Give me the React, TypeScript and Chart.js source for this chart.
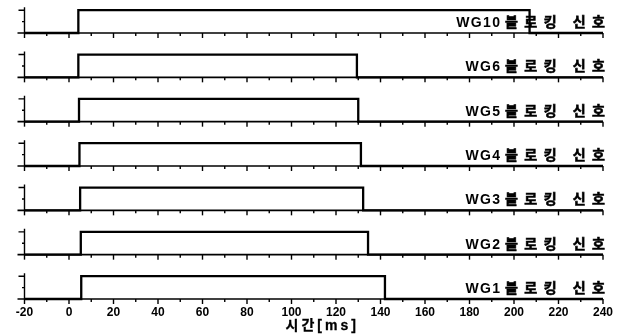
import { useEffect, useRef } from 'react';
import { Chart, registerables } from 'chart.js';

Chart.register(...registerables);

// ---- data ----
const signalNames = ['WG10', 'WG6', 'WG5', 'WG4', 'WG3', 'WG2', 'WG1'];
const labelSuffix = '블로킹 신호';
const riseTimes = [4.2, 4.2, 4.5, 4.7, 5.0, 5.3, 5.5];
const fallTimes = [207, 129.4, 130, 131.2, 132.2, 134.4, 142];
const xMin = -20;
const xMax = 240;
const xMajorStep = 20;
const xMinorStep = 10;
const axisTitle = '시간[ms]';

const LATIN = "'Liberation Sans', Arial, sans-serif";
const KR = "'Noto Sans CJK KR', 'Noto Sans CJK SC', sans-serif";
const MIXED = "'Liberation Sans', 'Noto Sans CJK KR', sans-serif";

function drawSpaced(
  ctx: CanvasRenderingContext2D,
  text: string,
  x: number,
  y: number,
  spacing: number,
  align: 'left' | 'right' | 'center',
  strokeW = 0,
) {
  const chars = Array.from(text);
  const widths = chars.map((c) => ctx.measureText(c).width);
  const total = widths.reduce((a, b) => a + b, 0) + spacing * (chars.length - 1);
  const left = align === 'left' ? x : align === 'right' ? x - total : x - total / 2;
  let cx = left;
  ctx.textAlign = 'left';
  chars.forEach((c, i) => {
    ctx.fillText(c, cx, y);
    if (strokeW > 0) {
      ctx.lineWidth = strokeW;
      ctx.strokeText(c, cx, y);
    }
    cx += widths[i] + spacing;
  });
  return { left, width: total };
}

const panelPlugin = {
  id: 'panelPlugin',
  afterDraw(chart: any) {
    const ctx: CanvasRenderingContext2D = chart.ctx;
    const xs = chart.scales.x;
    const xl = xs.getPixelForValue(xMin);
    const xr = xs.getPixelForValue(xMax);
    ctx.save();
    ctx.strokeStyle = '#000';
    ctx.fillStyle = '#000';
    signalNames.forEach((name, i) => {
      const ys = chart.scales['y' + i];
      const yb = ys.getPixelForValue(0);
      const y1 = ys.getPixelForValue(1);
      const yh = ys.getPixelForValue(0.5);
      // baseline
      ctx.lineWidth = 1.6;
      ctx.beginPath();
      ctx.moveTo(xl - 7, yb);
      ctx.lineTo(xr, yb);
      ctx.stroke();
      // x ticks
      ctx.lineWidth = 1.4;
      for (let v = xMin; v <= xMax; v += xMinorStep) {
        const px = xs.getPixelForValue(v);
        const major = (v - xMin) % xMajorStep === 0;
        ctx.beginPath();
        ctx.moveTo(px, yb);
        ctx.lineTo(px, yb + (major ? 5 : 3));
        ctx.stroke();
      }
      // left small axis
      ctx.lineWidth = 1.4;
      ctx.beginPath();
      ctx.moveTo(xl, y1 - 3);
      ctx.lineTo(xl, yb);
      ctx.moveTo(xl, y1);
      ctx.lineTo(xl - 6, y1);
      ctx.moveTo(xl, yh);
      ctx.lineTo(xl - 2.5, yh);
      ctx.stroke();
      // label
      ctx.textBaseline = 'alphabetic';
      ctx.font = `bold 14px ${KR}`;
      const suf = drawSpaced(ctx, labelSuffix, xr + 2, yb - 6, 6.5, 'right', 0.6);
      ctx.font = `bold 14px ${LATIN}`;
      drawSpaced(ctx, name, suf.left - 5, yb - 6, 1.3, 'right');
    });
    // axis title
    ctx.font = `bold 14px ${MIXED}`;
    ctx.textBaseline = 'middle';
    const cx = (chart.chartArea.left + chart.chartArea.right) / 2 + 7;
    drawSpaced(ctx, axisTitle, cx, 326, 3, 'center', 0.3);
    ctx.restore();
  },
};

export default function App() {
  const ref = useRef<HTMLCanvasElement | null>(null);
  useEffect(() => {
    if (!ref.current) return;
    const datasets = signalNames.map((name, i) => ({
      label: name,
      yAxisID: 'y' + i,
      data: [
        { x: xMin, y: 0 },
        { x: riseTimes[i], y: 0 },
        { x: riseTimes[i], y: 1 },
        { x: fallTimes[i], y: 1 },
        { x: fallTimes[i], y: 0 },
        { x: xMax, y: 0 },
      ],
      borderColor: '#000',
      borderWidth: 2.3,
      pointRadius: 0,
      tension: 0,
      fill: false,
      clip: false as any,
    }));
    const scales: any = {
      x: {
        type: 'linear',
        position: 'bottom',
        min: xMin,
        max: xMax,
        ticks: {
          stepSize: xMajorStep,
          color: '#000',
          font: { family: LATIN, size: 12, weight: 'bold' },
          padding: 6,
          maxRotation: 0,
        },
        grid: { display: false, drawTicks: false },
        border: { display: false },
      },
    };
    signalNames.forEach((_, i) => {
      scales['y' + i] = {
        type: 'linear',
        position: 'left',
        stack: 'panels',
        stackWeight: i === 0 ? 28 : 44.33,
        weight: signalNames.length - i,
        min: 0,
        max: i === 0 ? 28 / 22.8 : 44.33 / 22.8,
        ticks: { display: false },
        grid: { display: false, drawTicks: false },
        border: { display: false },
      };
    });
    const chart = new Chart(ref.current, {
      type: 'line',
      data: { datasets },
      options: {
        animation: false,
        responsive: false,
        maintainAspectRatio: false,
        layout: { padding: { left: 24.5, right: 24, top: 5, bottom: 10.6 } },
        plugins: { legend: { display: false }, tooltip: { enabled: false } },
        scales,
      },
      plugins: [panelPlugin],
    });
    return () => chart.destroy();
  }, []);
  return (
    <div style={{ position: 'absolute', left: 0, top: 0, width: 627, height: 336, background: '#fff' }}>
      <canvas ref={ref} width={627} height={336} />
    </div>
  );
}
